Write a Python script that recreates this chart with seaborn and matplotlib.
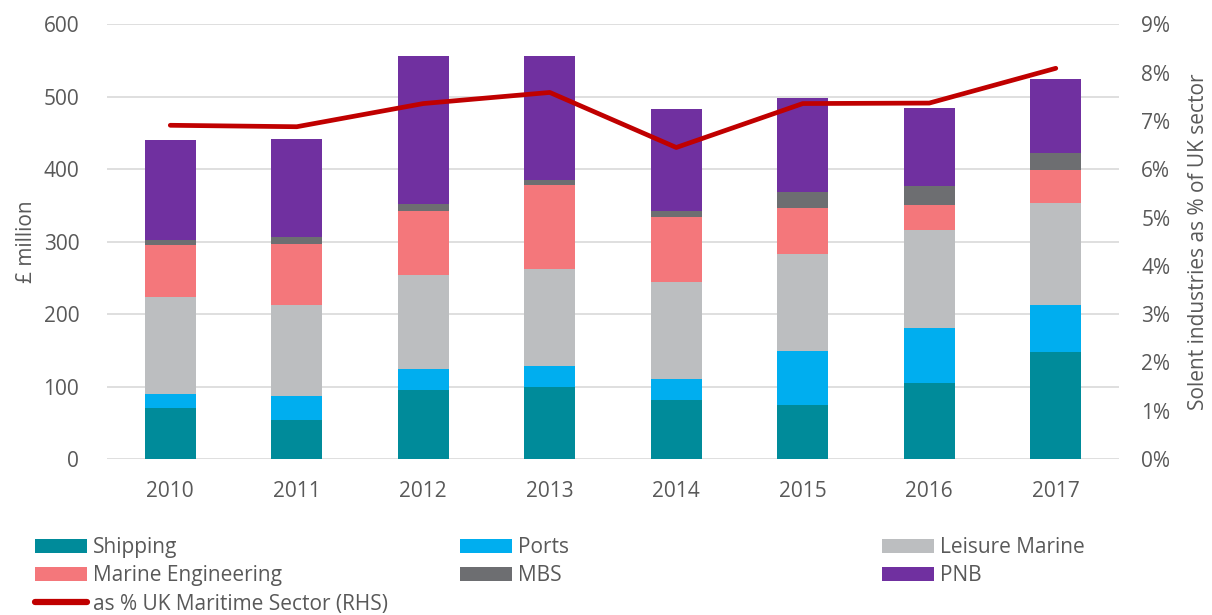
import matplotlib
matplotlib.use("Agg")
import matplotlib.pyplot as plt
import seaborn as sns
import numpy as np
from matplotlib.patches import Patch
from matplotlib.lines import Line2D
from matplotlib.ticker import FuncFormatter

# Data (GVA, £ million)
years = ["2010", "2011", "2012", "2013", "2014", "2015", "2016", "2017"]
shipping = [70, 54, 95, 99, 81, 74, 105, 148]
ports = [20, 33, 29, 29, 30, 75, 76, 65]
leisure_marine = [133, 125, 130, 134, 133, 134, 135, 141]
marine_engineering = [72, 85, 89, 116, 90, 63, 35, 45]
mbs = [7, 9, 9, 7, 9, 22, 26, 23]
pnb = [139, 136, 205, 172, 140, 130, 108, 102]
uk_share = [6.91, 6.88, 7.36, 7.59, 6.45, 7.36, 7.37, 8.09]  # % of UK maritime sector

series = [
    ("Shipping", shipping, "#008B9A"),
    ("Ports", ports, "#00AEEF"),
    ("Leisure Marine", leisure_marine, "#BCBEC0"),
    ("Marine Engineering", marine_engineering, "#F4777B"),
    ("MBS", mbs, "#6D6E71"),
    ("PNB", pnb, "#7030A0"),
]
line_color = "#C00000"
text_color = "#595959"
grid_color = "#D9D9D9"

sns.set_theme(style="white")
plt.rcParams["font.family"] = ["Open Sans", "DejaVu Sans"]
plt.rcParams["text.color"] = text_color

fig = plt.figure(figsize=(12.12, 6.15), dpi=100)
ax = fig.add_axes([0.0883, 0.2537, 0.835, 0.7067])

x = np.arange(len(years))
bottom = np.zeros(len(years))
handles = {}
for name, vals, color in series:
    vals = np.array(vals, dtype=float)
    ax.bar(x, vals, width=0.4, bottom=bottom, color=color, edgecolor="none", zorder=3)
    bottom += vals
    handles[name] = Patch(facecolor=color, edgecolor="none")

ax.set_xlim(-0.5, len(years) - 0.5)
ax.set_ylim(0, 600)
ax.set_yticks(range(0, 601, 100))
ax.set_xticks(x)
ax.set_xticklabels(years)
ax.yaxis.grid(True, color=grid_color, linewidth=1.2, zorder=0)
ax.set_axisbelow(True)
for s in ax.spines.values():
    s.set_visible(False)
ax.tick_params(axis="y", length=0, pad=20, labelsize=15, labelcolor=text_color)
ax.tick_params(axis="x", length=0, pad=16, labelsize=15, labelcolor=text_color)
ax.set_ylabel("£ million", fontsize=15, color=text_color, labelpad=5)

ax2 = ax.twinx()
sns.lineplot(x=x, y=uk_share, ax=ax2, color=line_color, linewidth=3.4,
             solid_capstyle="round", zorder=5)
ax2.set_ylim(0, 9)
ax2.set_yticks(range(0, 10))
ax2.yaxis.set_major_formatter(FuncFormatter(lambda v, p: f"{v:.0f}%"))
for s in ax2.spines.values():
    s.set_visible(False)
ax2.tick_params(axis="y", length=0, pad=16, labelsize=15, labelcolor=text_color)
ax2.set_ylabel("Solent industries as % of UK sector", fontsize=15, color=text_color, labelpad=13)
ax2.grid(False)

line_handle = Line2D([0], [0], color=line_color, linewidth=4.5, solid_capstyle="round")
handles["as % UK Maritime Sector (RHS)"] = line_handle

leg_kw = dict(loc="upper left", frameon=False, fontsize=15, borderpad=0, borderaxespad=0,
              handlelength=2.5, handleheight=0.67, handletextpad=0.27, labelspacing=0.35,
              labelcolor=text_color)
columns = [
    (["Shipping", "Marine Engineering", "as % UK Maritime Sector (RHS)"], 35),
    (["Ports", "MBS"], 460),
    (["Leisure Marine", "PNB"], 882),
]
for names, px in columns:
    fig.legend([handles[n] for n in names], names,
               bbox_to_anchor=(px / 1212, 1 - 537 / 615), **leg_kw)

fig.savefig("out.png", dpi=100)
